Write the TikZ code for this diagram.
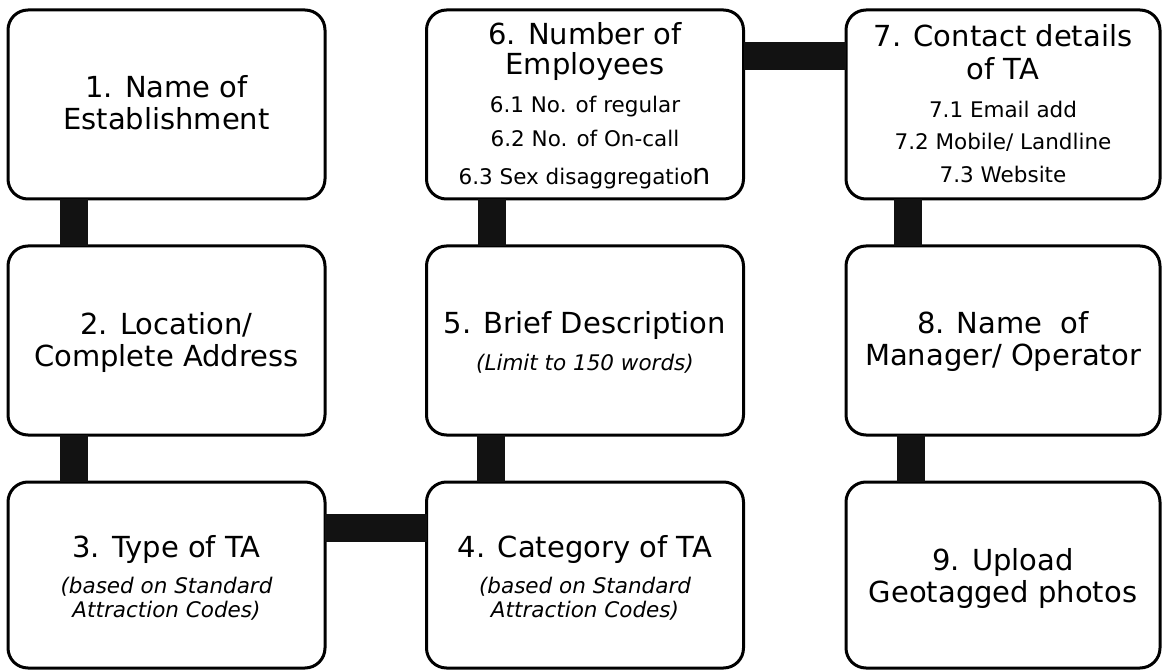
\documentclass[tikz,border=0pt]{standalone}
\usepackage{fontspec}
\setmainfont{DejaVu Sans}
\begin{document}
\begin{tikzpicture}[x=1pt,y=-1pt,
  box/.style={draw=black, line width=3pt, rounded corners=20pt, fill=white,
    minimum width=317pt, minimum height=189pt, inner sep=0pt, outer sep=0pt},
  lowbox/.style={box, minimum height=186pt},
  conn/.style={line width=28pt, draw=black!93},
  maintxt/.style={anchor=base, inner sep=0pt, font=\fontsize{29}{34}\selectfont},
  subtxt/.style={anchor=base, inner sep=0pt, font=\fontsize{21.5}{25}\selectfont},
  itatxt/.style={anchor=base, inner sep=0pt, font=\fontsize{21.5}{25}\selectfont\itshape}]
\useasboundingbox (0,0) rectangle (1162,671);

% boxes
\node[box] (b1) at (166.5,104.5) {};
\node[box] (b2) at (166.5,340.5) {};
\node[lowbox] (b3) at (166.5,575) {};
\node[lowbox] (b4) at (585,575) {};
\node[box] (b5) at (585,340.5) {};
\node[box] (b6) at (585,104.5) {};
\node[box, minimum width=314pt] (b7) at (1003,104.5) {};
\node[box, minimum width=314pt] (b8) at (1003,340.5) {};
\node[lowbox, minimum width=314pt] (b9) at (1003,575) {};

% connectors
\draw[conn] ([xshift=65.5pt]b1.south west) -- ([xshift=65.5pt]b2.north west);
\draw[conn] ([xshift=65.5pt]b2.south west) -- ([xshift=65.5pt]b3.north west);
\draw[conn] ([yshift=-46pt]b3.north east) -- ([yshift=-46pt]b4.north west);
\draw[conn] ([xshift=64pt]b4.north west) -- ([xshift=64pt]b5.south west);
\draw[conn] ([xshift=65.5pt]b5.north west) -- ([xshift=65.5pt]b6.south west);
\draw[conn] ([yshift=-46.5pt]b6.north east) -- ([yshift=-46.5pt]b7.north west);
\draw[conn] ([xshift=61.5pt]b7.south west) -- ([xshift=61.5pt]b8.north west);
\draw[conn] ([xshift=64.5pt]b8.south west) -- ([xshift=64.5pt]b9.north west);

% texts
\node[maintxt] (t1a) at (166.5,98) {1. Name of};
\node[maintxt] (t1b) at (166.5,130) {Establishment};

\node[maintxt] (t2a) at (166.5,334) {2. Location/};
\node[maintxt] (t2b) at (166.5,366) {Complete Address};

\node[maintxt] (t3a) at (166.5,557) {3. Type of TA};
\node[itatxt] (t3b) at (166.5,593) {(based on Standard};
\node[itatxt] (t3c) at (166.5,617) {Attraction Codes)};

\node[maintxt] (t4a) at (585,557) {4. Category of TA};
\node[itatxt] (t4b) at (585,593) {(based on Standard};
\node[itatxt] (t4c) at (585,617) {Attraction Codes)};

\node[maintxt] (t5a) at (585,333) {5. Brief Description};
\node[itatxt] (t5b) at (585,370) {(Limit to 150 words)};

\node[maintxt] (t6a) at (585,45) {6. Number of};
\node[maintxt] (t6b) at (585,75) {Employees};
\node[subtxt] (t6c) at (585,113) {6.1 No. of regular};
\node[subtxt] (t6d) at (585,147) {6.2 No. of On-call};
\node[subtxt] (t6e) at (585,185) {6.3 Sex disaggregatio{\fontsize{29}{34}\selectfont n}};

\node[maintxt] (t7a) at (1003,47) {7. Contact details};
\node[maintxt] (t7b) at (1003,80) {of TA};
\node[subtxt] (t7c) at (1003,118) {7.1 Email add};
\node[subtxt] (t7d) at (1003,150) {7.2 Mobile/ Landline};
\node[subtxt] (t7e) at (1003,183) {7.3 Website};

\node[maintxt] (t8a) at (1003,333) {8. Name\ \ of};
\node[maintxt] (t8b) at (1003,365) {Manager/ Operator};

\node[maintxt] (t9a) at (1003,570) {9. Upload};
\node[maintxt] (t9b) at (1003,602) {Geotagged photos};
\end{tikzpicture}
\end{document}
